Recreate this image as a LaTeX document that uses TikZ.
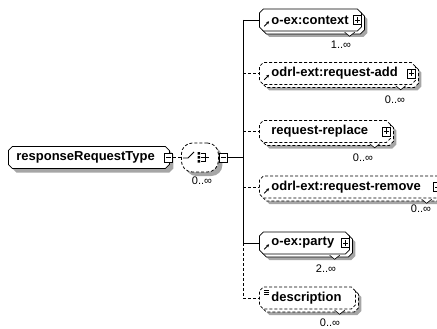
\documentclass[tikz,border=0pt]{standalone}
\usepackage{fontspec}
\setmainfont{Liberation Sans}
\usetikzlibrary{shapes.misc,shadows,arrows.meta}
\begin{document}
\begin{tikzpicture}[x=1pt,y=-1pt,line width=0.8pt,
  dsh/.style={dash pattern=on 3pt off 2pt},
  grayshadow/.style={general shadow={fill=black!35,draw=none,shadow xshift=#1,shadow yshift=-#1}},
  elembase/.style={chamfered rectangle,chamfered rectangle xsep=2pt,
    chamfered rectangle ysep=2pt,draw,fill=white,minimum height=22pt,
    inner ysep=0pt,inner xsep=10pt,align=left,anchor=west,
    font=\bfseries\fontsize{13pt}{15pt}\selectfont},
  % element that may repeat: a second outline behind it and a grey shadow
  many/.style={elembase,grayshadow=6pt,
    copy shadow={shadow xshift=3pt,shadow yshift=-3pt,line width=0.8pt}},
  optmany/.style={elembase,dsh,grayshadow=6pt,
    copy shadow={shadow xshift=3pt,shadow yshift=-3pt,line width=0.8pt,dsh}},
  tog/.style={draw,fill=white,rectangle,minimum width=8pt,minimum height=9pt,
    inner sep=0pt,line width=0.7pt},
  togm/.style={tog,path picture={\draw[line width=0.8pt]
    ([xshift=1.5pt]path picture bounding box.west) --
    ([xshift=-1.5pt]path picture bounding box.east);}},
  togp/.style={tog,path picture={\draw[line width=0.8pt]
    ([xshift=1.5pt]path picture bounding box.west) --
    ([xshift=-1.5pt]path picture bounding box.east);
    \draw[line width=0.8pt]
    ([yshift=-1.5pt]path picture bounding box.north) --
    ([yshift=1.5pt]path picture bounding box.south);}},
  card/.style={font=\fontsize{11pt}{13pt}\selectfont,inner sep=0pt},
  refarrow/.style={line width=0.9pt,-{Stealth[length=3pt,width=3pt]}},
  notch/.style={line width=0.6pt,fill=white}
]
\useasboundingbox (0,0) rectangle (437,329);
\clip (0,0) rectangle (437,329);

% root complex type
\node[elembase,grayshadow=4pt,inner xsep=6pt,text width=145pt]
  (root) at (8,157.5) {responseRequestType};
\node[togm] (rootT) at ([xshift=-1pt]root.east) {};

% sequence compositor
\node[rectangle,rounded corners=11pt,draw,dsh,fill=white,minimum width=37pt,
  minimum height=29pt,inner sep=0pt,grayshadow=4pt,anchor=west] (seq) at (181,157.5) {};
\node[togm,anchor=west] (seqT) at (219,157.5) {};
\node[card] (seqC) at (202,181) {0..\char"221E};

% sequence symbol
\draw[line width=0.8pt] (183,158) -- (188,158) -- (194,152);
\fill (197.5,152) rectangle (200,154.5) (197.5,156) rectangle (200,158.5)
      (197.5,160) rectangle (200,162.5);
\draw[line width=0.8pt] (200.5,153.2) -- (205,153.2) -- (205,161.3) -- (200.5,161.3)
      (200.5,157.3) -- (209,157.3);

\draw[dsh] (rootT.east) -- (seq.west);
\draw (seq.east) -- (seqT.west);
\coordinate (bus) at (243,157.5);
\draw (seqT.east) -- (bus);

% child elements
\node[many,text width=78pt] (ctx) at (259,20) {o-ex:context};
\node[optmany,text width=132pt] (radd) at (259,73.5) {odrl-ext:request-add};
\node[optmany,text width=107pt] (rrep) at (259,131.5) {request-replace};
\node[optmany,text width=158pt] (rrem) at (259,187) {odrl-ext:request-remove};
\node[many,text width=66pt] (party) at (259,243) {o-ex:party};
\node[optmany,text width=72pt] (desc) at (259,298) {description};

\node[togp] (ctxT) at ([xshift=-4pt]ctx.east) {};
\node[togp] (raddT) at ([xshift=-4pt]radd.east) {};
\node[togp] (rrepT) at ([xshift=-4pt]rrep.east) {};
\node[togp] (rremT) at ([xshift=-4pt]rrem.east) {};
\node[togp] (partyT) at ([xshift=-4pt]party.east) {};

% occurrence notches
\foreach \n/\d in {ctx/10,radd/13,rrep/14,rrem/13,party/13,desc/14}{
  \draw[notch] ([xshift=-\d pt-5pt,yshift=-3pt]\n.south east) --
    ([xshift=-\d pt,yshift=-7pt]\n.south east) --
    ([xshift=-\d pt+5pt,yshift=-3pt]\n.south east);
}

% occurrence ranges
\node[card] (ctxC) at (341,45) {1..\char"221E};
\node[card] (raddC) at (395,100) {0..\char"221E};
\node[card] (rrepC) at (363,158) {0..\char"221E};
\node[card] (rremC) at (421,209) {0..\char"221E};
\node[card] (partyC) at (326,269) {2..\char"221E};
\node[card] (descC) at (330,322.5) {0..\char"221E};

% reference markers
\foreach \n in {ctx,radd,rrem,party}{
  \draw[refarrow] ([shift={(3,-3)}]\n.south west) -- ++(5,-5);
}
% simple-content marker
\draw[line width=0.6pt] ([shift={(3,2)}]desc.north west) -- ++(5,0)
  ([shift={(3,4)}]desc.north west) -- ++(5,0)
  ([shift={(3,6)}]desc.north west) -- ++(5,0);

% connectors from the sequence to its children
\draw (bus |- ctx.west) -- (bus |- party.west);
\draw[dsh] (bus |- party.west) -- (bus |- desc.west);
\draw (bus |- ctx.west) -- (ctx.west);
\draw[dsh] (bus |- radd.west) -- (radd.west);
\draw[dsh] (bus |- rrep.west) -- (rrep.west);
\draw[dsh] (bus |- rrem.west) -- (rrem.west);
\draw (bus |- party.west) -- (party.west);
\draw[dsh] (bus |- desc.west) -- (desc.west);
\end{tikzpicture}
\end{document}
